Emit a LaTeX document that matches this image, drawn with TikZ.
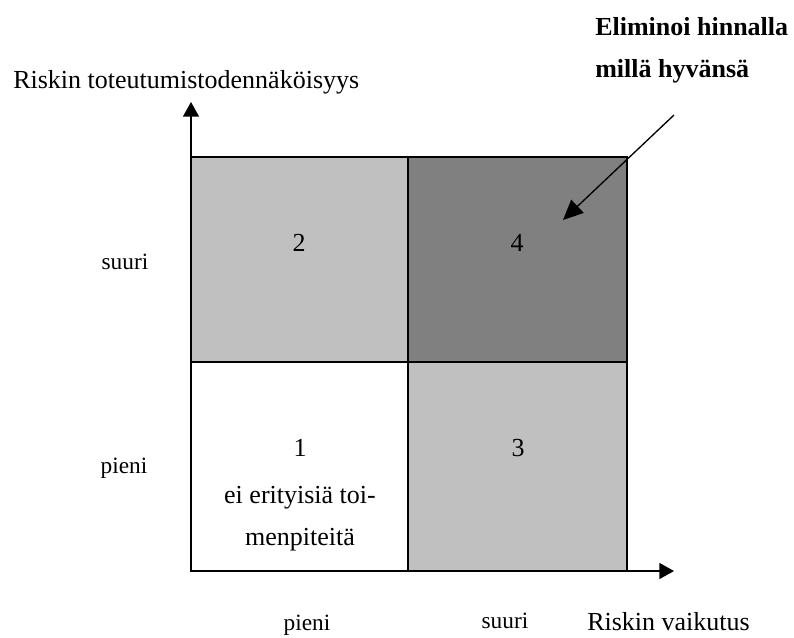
\documentclass[tikz,border=0pt]{standalone}
\usepackage{fontspec}
\setmainfont{Liberation Serif}
\usepackage{tikz}
\usetikzlibrary{arrows.meta}
\definecolor{lightgrey}{RGB}{192,192,192}
\definecolor{darkgrey}{RGB}{128,128,128}

\begin{document}
\begin{tikzpicture}[x=0.75pt,y=-0.75pt,
  cell/.style={draw=black,line width=1.2pt},
  axis/.style={line width=1.2pt,-{Triangle[length=11pt,width=12pt]}},
  txt/.style={font=\fontsize{19.5}{23}\selectfont,inner sep=0pt},
  lbl/.style={font=\fontsize{17.5}{20}\selectfont,inner sep=0pt}]
  \useasboundingbox (0,0) rectangle (794,637);

  % Draw the four cells
  \filldraw[cell,fill=white] (191,362) rectangle (408,571);
  \filldraw[cell,fill=lightgrey] (191,157) rectangle (408,362);
  \filldraw[cell,fill=lightgrey] (408,362) rectangle (627,571);
  \filldraw[cell,fill=darkgrey] (408,157) rectangle (627,362);

  % Draw axes
  \coordinate (origin) at (191,571);
  \coordinate (ytip) at (191,102);
  \coordinate (xtip) at (674,571);
  \draw[axis] (origin) -- (ytip);
  \draw[axis] (origin) -- (xtip);
  \node[txt,anchor=base west] (ytitle) at (13,88) {Riskin toteutumistodennäköisyys};
  \node[txt,anchor=base west] (xtitle) at (587,630) {Riskin vaikutus};

  % Labels
  \node[lbl,anchor=base] (ysuuri) at (125,269) {suuri};
  \node[lbl,anchor=base] (ypieni) at (124,473) {pieni};
  \node[lbl,anchor=base] (xpieni) at (307,630) {pieni};
  \node[lbl,anchor=base] (xsuuri) at (505,628) {suuri};

  % Cell numbers
  \node[txt,anchor=base] (n2) at (299,251) {2};
  \node[txt,anchor=base] (n4) at (517,251) {4};
  \node[txt,anchor=base] (n1) at (300,456) {1};
  \node[txt,anchor=base] (n3) at (518,456) {3};
  \node[txt,anchor=base] (note1) at (300,503) {ei erityisiä toi-};
  \node[txt,anchor=base] (note2) at (300,545) {menpiteitä};

  % Callout
  \node[txt,anchor=base west,font=\fontsize{19.5}{23}\selectfont\bfseries] (call1) at (595,35) {Eliminoi hinnalla};
  \node[txt,anchor=base west,font=\fontsize{19.5}{23}\selectfont\bfseries] (call2) at (595,77) {millä hyvänsä};
  \coordinate (callfrom) at (674,115);
  \coordinate (callto) at (563,220);
  \draw[line width=1pt,-{Triangle[length=15pt,width=13.5pt]}] (callfrom) -- (callto);
\end{tikzpicture}
\end{document}
